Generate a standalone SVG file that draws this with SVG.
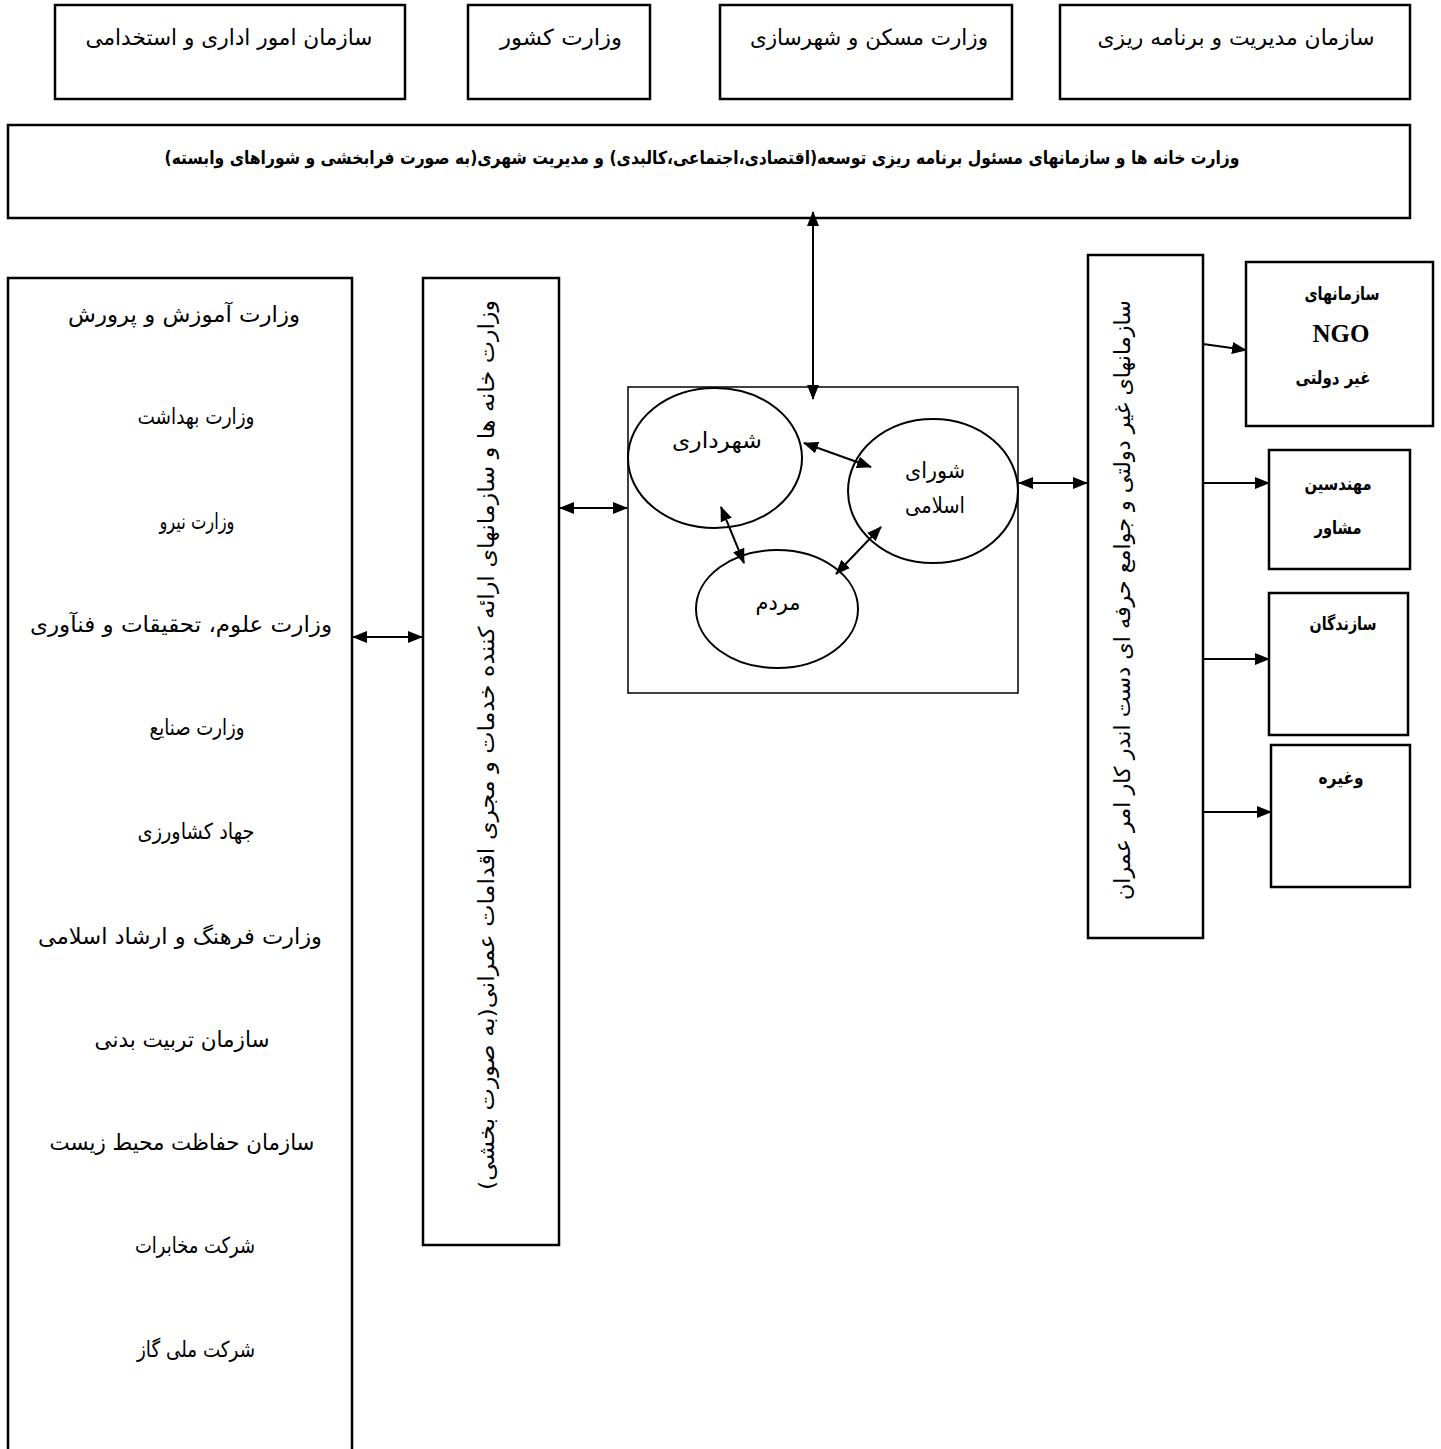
<svg xmlns="http://www.w3.org/2000/svg" width="1441" height="1449" viewBox="0 0 1441 1449">
<style>
.box{fill:#fff;stroke:#000;stroke-width:2.5}
.thin{fill:#fff;stroke:#000;stroke-width:1.5}
.ell{fill:#fff;stroke:#000;stroke-width:2}
.t{font-family:"DejaVu Sans",sans-serif;font-size:22px;fill:#000;direction:rtl;text-anchor:middle}
.b{font-family:"DejaVu Sans",sans-serif;font-size:18px;font-weight:bold;fill:#000;direction:rtl;text-anchor:middle}
.ngo{font-family:"Liberation Serif",serif;font-size:25px;font-weight:bold;fill:#000;text-anchor:middle}
.c{fill:none;stroke:#000;stroke-width:2}
</style>
<defs>
<marker id="ah" markerUnits="userSpaceOnUse" markerWidth="15" markerHeight="12" refX="14" refY="6" orient="auto-start-reverse" viewBox="0 0 15 12">
<path d="M0,0 L15,6 L0,12 Z" fill="#000"/>
</marker>
</defs>
<rect width="1441" height="1449" fill="#fff"/>

<g id="n-estekhdami"><rect class="box" x="55" y="5" width="350" height="94"/><text class="t" x="229" y="45" textLength="287" lengthAdjust="spacingAndGlyphs">سازمان امور اداری و استخدامی</text></g>
<g id="n-keshvar"><rect class="box" x="468" y="5" width="182" height="94"/><text class="t" x="561" y="45" textLength="122" lengthAdjust="spacingAndGlyphs">وزارت کشور</text></g>
<g id="n-maskan"><rect class="box" x="720" y="5" width="292" height="94"/><text class="t" x="869" y="45" textLength="238" lengthAdjust="spacingAndGlyphs">وزارت مسکن و شهرسازی</text></g>
<g id="n-modiriat"><rect class="box" x="1060" y="5" width="350" height="94"/><text class="t" x="1236" y="45" textLength="277" lengthAdjust="spacingAndGlyphs">سازمان مدیریت و برنامه ریزی</text></g>

<g id="n-band"><rect class="box" x="8" y="125" width="1402" height="93"/><text class="b" x="702" y="164" textLength="1075" lengthAdjust="spacingAndGlyphs">وزارت خانه ها و سازمانهای مسئول برنامه ریزی توسعه(اقتصادی،اجتماعی،کالبدی) و مدیریت شهری(به صورت فرابخشی و شوراهای وابسته)</text></g>

<g id="n-ministries"><rect class="box" x="8" y="278" width="344" height="1190"/>
<text class="t" x="184" y="322" textLength="232" lengthAdjust="spacingAndGlyphs">وزارت آموزش و پرورش</text>
<text class="t" x="196" y="424" textLength="117" lengthAdjust="spacingAndGlyphs">وزارت بهداشت</text>
<text class="t" x="197" y="529" textLength="75" lengthAdjust="spacingAndGlyphs">وزارت نیرو</text>
<text class="t" x="181" y="632" textLength="302" lengthAdjust="spacingAndGlyphs">وزارت علوم، تحقیقات و فنآوری</text>
<text class="t" x="197" y="735" textLength="95" lengthAdjust="spacingAndGlyphs">وزارت صنایع</text>
<text class="t" x="196" y="839" textLength="117" lengthAdjust="spacingAndGlyphs">جهاد کشاورزی</text>
<text class="t" x="180" y="944" textLength="284" lengthAdjust="spacingAndGlyphs">وزارت فرهنگ و ارشاد اسلامی</text>
<text class="t" x="182" y="1047" textLength="175" lengthAdjust="spacingAndGlyphs">سازمان تربیت بدنی</text>
<text class="t" x="182" y="1150" textLength="265" lengthAdjust="spacingAndGlyphs">سازمان حفاظت محیط زیست</text>
<text class="t" x="195" y="1253" textLength="120" lengthAdjust="spacingAndGlyphs">شرکت مخابرات</text>
<text class="t" x="196" y="1357" textLength="118" lengthAdjust="spacingAndGlyphs">شرکت ملی گاز</text>
</g>

<g id="n-sectoral"><rect class="box" x="423" y="278" width="136" height="967"/><text class="t" transform="translate(487,745) rotate(-90)" x="0" y="7" textLength="890" lengthAdjust="spacingAndGlyphs">وزارت خانه ها  و سازمانهای  ارائه کننده خدمات و مجری اقدامات عمرانی(به صورت بخشی)</text></g>

<g id="n-local"><rect class="thin" x="628" y="387" width="390" height="306"/></g>
<g id="n-shahrdari"><ellipse class="ell" cx="715" cy="458" rx="87" ry="70"/><text class="t" x="717" y="448" textLength="90" lengthAdjust="spacingAndGlyphs">شهرداری</text></g>
<g id="n-shora"><ellipse class="ell" cx="933" cy="491" rx="85" ry="72"/><text class="t" x="935" y="478" textLength="60" lengthAdjust="spacingAndGlyphs">شورای</text><text class="t" x="935" y="513" textLength="60" lengthAdjust="spacingAndGlyphs">اسلامی</text></g>
<g id="n-mardom"><ellipse class="ell" cx="777" cy="609" rx="81" ry="59"/><text class="t" x="778" y="610" textLength="45" lengthAdjust="spacingAndGlyphs">مردم</text></g>

<g id="n-ngo-group"><rect class="box" x="1088" y="255" width="115" height="683"/><text class="t" transform="translate(1123,600) rotate(-90)" x="0" y="7" textLength="600" lengthAdjust="spacingAndGlyphs">سازمانهای غیر دولتی و جوامع حرفه ای دست اندر کار امر عمران</text></g>

<g id="n-ngo"><rect class="box" x="1246" y="262" width="187" height="164"/>
<text class="b" x="1342" y="300" textLength="75" lengthAdjust="spacingAndGlyphs">سازمانهای</text>
<text class="ngo" x="1341" y="342">NGO</text>
<text class="b" x="1333" y="384" textLength="75" lengthAdjust="spacingAndGlyphs">غیر دولتی</text></g>
<g id="n-mohandesin"><rect class="box" x="1269" y="450" width="141" height="119"/>
<text class="b" x="1338" y="490" textLength="67" lengthAdjust="spacingAndGlyphs">مهندسین</text>
<text class="b" x="1338" y="534" textLength="47" lengthAdjust="spacingAndGlyphs">مشاور</text></g>
<g id="n-sazandegan"><rect class="box" x="1269" y="593" width="139" height="142"/>
<text class="b" x="1343" y="630" textLength="67" lengthAdjust="spacingAndGlyphs">سازندگان</text></g>
<g id="n-gheire"><rect class="box" x="1271" y="745" width="139" height="142"/>
<text class="b" x="1341" y="784" textLength="45" lengthAdjust="spacingAndGlyphs">وغیره</text></g>

<g id="connectors">
<line class="c" x1="353" y1="637" x2="422" y2="637" marker-start="url(#ah)" marker-end="url(#ah)"/>
<line class="c" x1="560" y1="508" x2="627" y2="508" marker-start="url(#ah)" marker-end="url(#ah)"/>
<line class="c" x1="813" y1="212" x2="813" y2="399" marker-start="url(#ah)" marker-end="url(#ah)"/>
<line class="c" x1="1019" y1="483" x2="1087" y2="483" marker-start="url(#ah)" marker-end="url(#ah)"/>
<line class="c" x1="804" y1="443" x2="871" y2="467" marker-start="url(#ah)" marker-end="url(#ah)"/>
<line class="c" x1="721" y1="507" x2="744" y2="563" marker-start="url(#ah)" marker-end="url(#ah)"/>
<line class="c" x1="881" y1="527" x2="836" y2="574" marker-start="url(#ah)" marker-end="url(#ah)"/>
<line class="c" x1="1203" y1="344" x2="1246" y2="350" marker-end="url(#ah)"/>
<line class="c" x1="1203" y1="483" x2="1269" y2="483" marker-end="url(#ah)"/>
<line class="c" x1="1203" y1="659" x2="1269" y2="659" marker-end="url(#ah)"/>
<line class="c" x1="1203" y1="812" x2="1271" y2="812" marker-end="url(#ah)"/>
</g>
</svg>
